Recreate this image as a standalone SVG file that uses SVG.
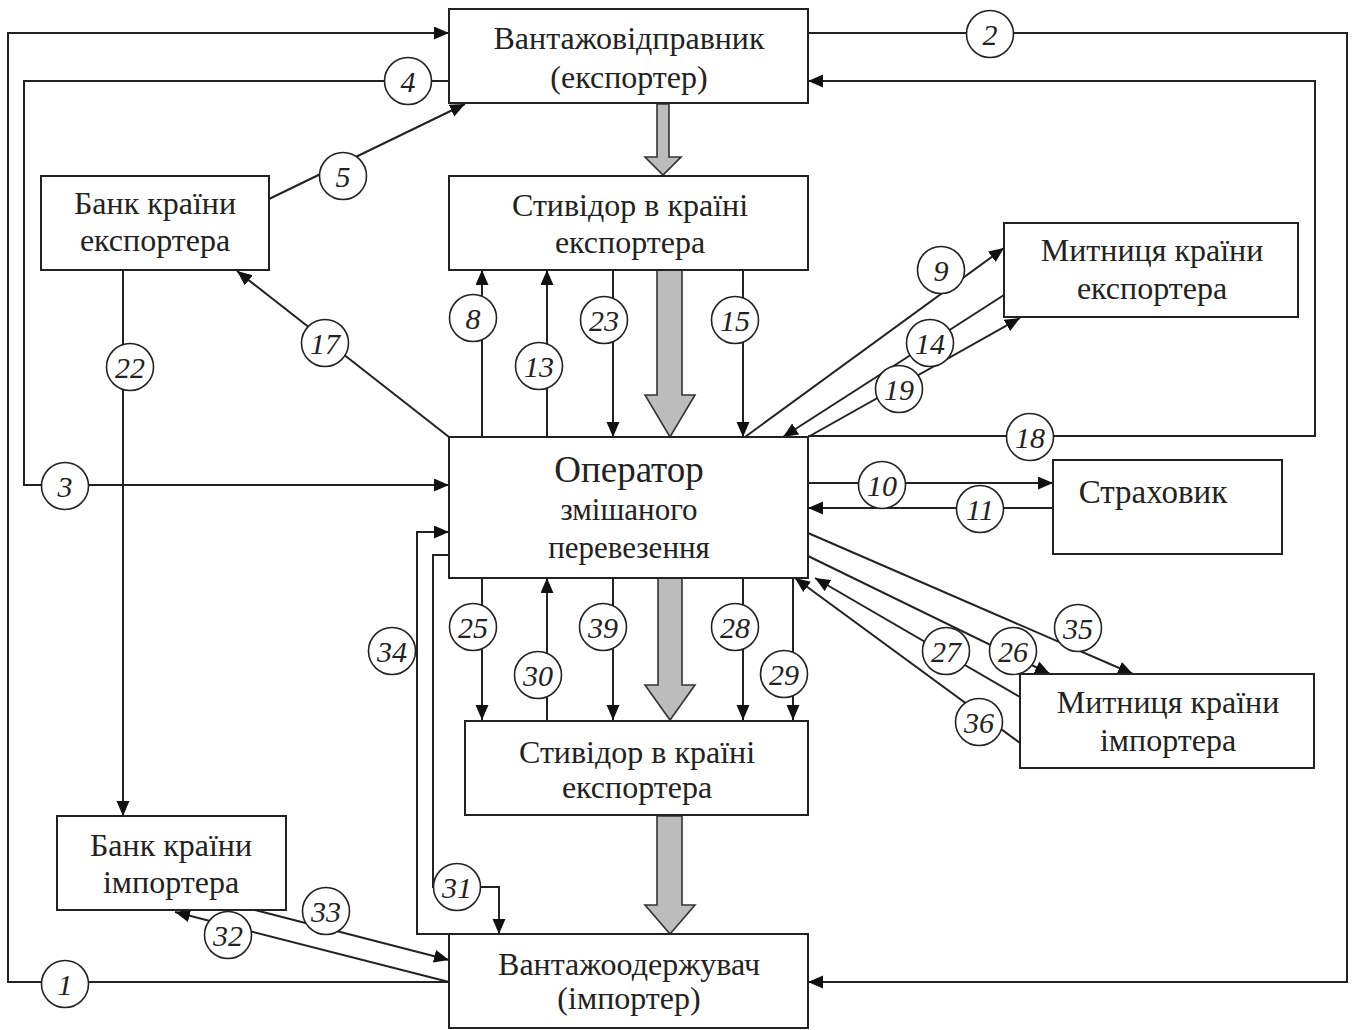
<svg xmlns="http://www.w3.org/2000/svg" width="1356" height="1030" viewBox="0 0 1356 1030">
<style>
.box{fill:#fff;stroke:#222;stroke-width:2}
.t{font-family:"Liberation Serif","Times New Roman",serif;font-size:32px;fill:#222;text-anchor:middle}
.c{fill:none;stroke:#222;stroke-width:2}
.a{marker-end:url(#ah)}
.lc{fill:#fff;stroke:#222;stroke-width:1.6}
.lt{font-family:"Liberation Serif","Times New Roman",serif;font-style:italic;font-size:30px;fill:#222;text-anchor:middle}
.big{fill:#bcbcbc;stroke:#333;stroke-width:1.6}
</style>
<defs>
<marker id="ah" markerUnits="userSpaceOnUse" markerWidth="16" markerHeight="14" refX="15" refY="6.5" orient="auto">
<path d="M0,0 L15,6.5 L0,13 z" fill="#111"/>
</marker>
</defs>
<rect width="1356" height="1030" fill="#fff"/>

<g id="connectors">
<path class="c a" d="M449,982 H8 V33 H449"/>
<path class="c a" d="M808,33 H1347 V982 H808"/>
<path class="c a" d="M449,81 H24 V485 H449"/>
<path class="c a" d="M269,199 L465,104"/>
<path class="c a" d="M482,437 V270"/>
<path class="c a" d="M745,437 L1004,248"/>
<path class="c a" d="M808,483 H1053"/>
<path class="c a" d="M1053,508 H808"/>
<path class="c a" d="M547,437 V270"/>
<path class="c a" d="M1004,295 L783,437"/>
<path class="c a" d="M743,270 V437"/>
<path class="c a" d="M449,437 L237,271"/>
<path class="c a" d="M808,436 H1315 V81 H808"/>
<path class="c a" d="M808,437 L1020,318"/>
<path class="c a" d="M123,270 V816"/>
<path class="c a" d="M613,270 V437"/>
<path class="c a" d="M482,578 V720"/>
<path class="c a" d="M808,556 L1050,674"/>
<path class="c a" d="M1020,697 L815,578"/>
<path class="c a" d="M743,578 V720"/>
<path class="c a" d="M793,578 V720"/>
<path class="c a" d="M547,720 V578"/>
<path class="c a" d="M449,555 H433 V887 H499 V934"/>
<path class="c a" d="M449,982 L175,912"/>
<path class="c a" d="M255,910 L449,960"/>
<path class="c a" d="M449,934 H417 V532 H449"/>
<path class="c a" d="M808,533 L1133,674"/>
<path class="c a" d="M1020,743 L795,578"/>
<path class="c a" d="M613,578 V720"/>

<polygon class="big" points="657,104 669,104 669,157 681,157 663,175 645,157 657,157"/>
<polygon class="big" points="657,270 682,270 682,395 695,395 670,437 645,395 657,395"/>
<polygon class="big" points="658,578 682,578 682,685 695,685 670,720 645,685 658,685"/>
<polygon class="big" points="657,816 682,816 682,905 695,905 670,934 645,905 657,905"/>

<g id="labels">
<circle class="lc" cx="65" cy="984" r="23.5"/><text class="lt" x="65" y="995">1</text>
<circle class="lc" cx="990" cy="34" r="23.5"/><text class="lt" x="990" y="45">2</text>
<circle class="lc" cx="65" cy="486" r="23.5"/><text class="lt" x="65" y="497">3</text>
<circle class="lc" cx="408" cy="81" r="23.5"/><text class="lt" x="408" y="92">4</text>
<circle class="lc" cx="343" cy="176" r="23.5"/><text class="lt" x="343" y="187">5</text>
<circle class="lc" cx="473" cy="318" r="23.5"/><text class="lt" x="473" y="329">8</text>
<circle class="lc" cx="941" cy="270" r="23.5"/><text class="lt" x="941" y="281">9</text>
<circle class="lc" cx="882" cy="485" r="23.5"/><text class="lt" x="882" y="496">10</text>
<circle class="lc" cx="980" cy="509" r="23.5"/><text class="lt" x="980" y="520">11</text>
<circle class="lc" cx="539" cy="366" r="23.5"/><text class="lt" x="539" y="377">13</text>
<circle class="lc" cx="930" cy="343" r="23.5"/><text class="lt" x="930" y="354">14</text>
<circle class="lc" cx="735" cy="320" r="23.5"/><text class="lt" x="735" y="331">15</text>
<circle class="lc" cx="325" cy="343" r="23.5"/><text class="lt" x="325" y="354">17</text>
<circle class="lc" cx="1030" cy="437" r="23.5"/><text class="lt" x="1030" y="448">18</text>
<circle class="lc" cx="899" cy="389" r="23.5"/><text class="lt" x="899" y="400">19</text>
<circle class="lc" cx="130" cy="367" r="23.5"/><text class="lt" x="130" y="378">22</text>
<circle class="lc" cx="604" cy="320" r="23.5"/><text class="lt" x="604" y="331">23</text>
<circle class="lc" cx="473" cy="627" r="23.5"/><text class="lt" x="473" y="638">25</text>
<circle class="lc" cx="1013" cy="651" r="23.5"/><text class="lt" x="1013" y="662">26</text>
<circle class="lc" cx="946" cy="651" r="23.5"/><text class="lt" x="946" y="662">27</text>
<circle class="lc" cx="735" cy="627" r="23.5"/><text class="lt" x="735" y="638">28</text>
<circle class="lc" cx="784" cy="674" r="23.5"/><text class="lt" x="784" y="685">29</text>
<circle class="lc" cx="538" cy="675" r="23.5"/><text class="lt" x="538" y="686">30</text>
<circle class="lc" cx="457" cy="887" r="23.5"/><text class="lt" x="457" y="898">31</text>
<circle class="lc" cx="228" cy="935" r="23.5"/><text class="lt" x="228" y="946">32</text>
<circle class="lc" cx="326" cy="911" r="23.5"/><text class="lt" x="326" y="922">33</text>
<circle class="lc" cx="392" cy="651" r="23.5"/><text class="lt" x="392" y="662">34</text>
<circle class="lc" cx="1078" cy="628" r="23.5"/><text class="lt" x="1078" y="639">35</text>
<circle class="lc" cx="979" cy="722" r="23.5"/><text class="lt" x="979" y="733">36</text>
<circle class="lc" cx="603" cy="627" r="23.5"/><text class="lt" x="603" y="638">39</text>
</g>
</g>

<g id="shipper">
<rect class="box" x="449" y="9" width="359" height="94"/>
<text class="t" x="629" y="49">Вантажовідправник</text>
<text class="t" x="629" y="88">(експортер)</text>
</g>
<g id="stevedore-top">
<rect class="box" x="449" y="176" width="359" height="94"/>
<text class="t" x="630" y="216">Стивідор в країні</text>
<text class="t" x="630" y="253">експортера</text>
</g>
<g id="operator">
<rect class="box" x="449" y="437" width="359" height="141"/>
<text class="t" x="629" y="482" style="font-size:37px">Оператор</text>
<text class="t" x="629" y="520" style="font-size:31px">змішаного</text>
<text class="t" x="629" y="558" style="font-size:31px">перевезення</text>
</g>
<g id="stevedore-bottom">
<rect class="box" x="465" y="721" width="343" height="94"/>
<text class="t" x="637" y="763">Стивідор в країні</text>
<text class="t" x="637" y="798">експортера</text>
</g>
<g id="consignee">
<rect class="box" x="449" y="934" width="359" height="94"/>
<text class="t" x="629" y="975">Вантажоодержувач</text>
<text class="t" x="629" y="1009">(імпортер)</text>
</g>
<g id="bank-exporter">
<rect class="box" x="41" y="176" width="228" height="94"/>
<text class="t" x="155" y="214">Банк країни</text>
<text class="t" x="155" y="251">експортера</text>
</g>
<g id="bank-importer">
<rect class="box" x="57" y="816" width="229" height="94"/>
<text class="t" x="171" y="856">Банк країни</text>
<text class="t" x="171" y="893">імпортера</text>
</g>
<g id="customs-exporter">
<rect class="box" x="1004" y="223" width="294" height="94"/>
<text class="t" x="1152" y="261">Митниця країни</text>
<text class="t" x="1152" y="299">експортера</text>
</g>
<g id="insurer">
<rect class="box" x="1053" y="460" width="229" height="94"/>
<text class="t" x="1153" y="503" style="font-size:33px">Страховик</text>
</g>
<g id="customs-importer">
<rect class="box" x="1020" y="674" width="294" height="94"/>
<text class="t" x="1168" y="713">Митниця країни</text>
<text class="t" x="1168" y="751">імпортера</text>
</g>
</svg>
